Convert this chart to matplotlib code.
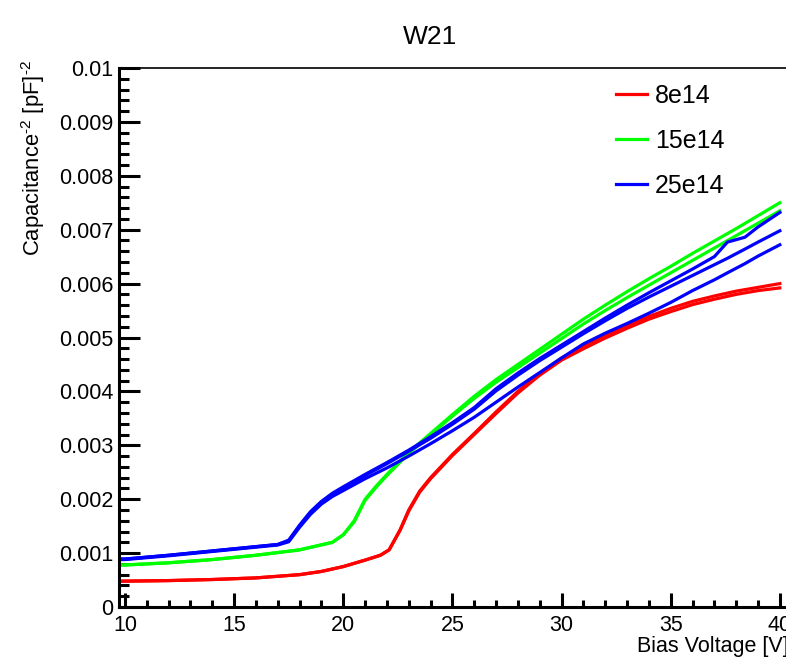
import matplotlib
matplotlib.use("Agg")
import matplotlib.pyplot as plt
from matplotlib.ticker import MultipleLocator, FixedLocator, FixedFormatter

plt.rcParams['font.family'] = ['Liberation Sans', 'DejaVu Sans']
plt.rcParams['mathtext.fontset'] = 'custom'
plt.rcParams['mathtext.rm'] = 'Liberation Sans'
plt.rcParams['mathtext.it'] = 'Liberation Sans:italic'
plt.rcParams['mathtext.bf'] = 'Liberation Sans:bold'

# ---- data ----
v_red = [9.75, 10, 12, 14, 16, 18, 19, 20, 21, 21.7, 22.1, 22.6, 23, 23.5, 24, 25, 26, 27, 28, 29,
         30, 31, 32, 33, 34, 35, 36, 37, 38, 39, 40]
c_red1 = [0.00048, 0.00048, 0.00049, 0.00051, 0.00054, 0.00060, 0.00066, 0.00075, 0.00087, 0.00096,
          0.00106, 0.00143, 0.00180, 0.00215, 0.00240, 0.00283, 0.00322, 0.00362, 0.00400, 0.00433,
          0.00462, 0.00483, 0.00503, 0.00522, 0.00539, 0.00554, 0.00567, 0.00577, 0.00586, 0.00593, 0.00600]
c_red2 = [0.00048, 0.00048, 0.00049, 0.00051, 0.00054, 0.00060, 0.00066, 0.00075, 0.00087, 0.00096,
          0.00106, 0.00142, 0.00178, 0.00213, 0.00238, 0.00281, 0.00320, 0.00359, 0.00397, 0.00430,
          0.00458, 0.00479, 0.00499, 0.00517, 0.00534, 0.00548, 0.00561, 0.00571, 0.00580, 0.00587, 0.00592]

v_green = [9.75, 10, 12, 14, 16, 18, 19.5, 20, 20.5, 21, 21.5, 22, 23, 24, 25, 26, 27, 28, 29,
           30, 31, 32, 33, 34, 35, 36, 37, 38, 39, 40]
c_green1 = [0.00078, 0.00078, 0.00082, 0.00088, 0.00096, 0.00106, 0.00120, 0.00134, 0.00160, 0.00200,
            0.00224, 0.00246, 0.00287, 0.00322, 0.00357, 0.00391, 0.00422, 0.00450, 0.00478,
            0.00506, 0.00534, 0.00560, 0.00585, 0.00609, 0.00632, 0.00656, 0.00679, 0.00702, 0.00726, 0.00750]
c_green2 = [0.00078, 0.00078, 0.00082, 0.00088, 0.00096, 0.00106, 0.00120, 0.00134, 0.00158, 0.00198,
            0.00222, 0.00244, 0.00285, 0.00320, 0.00354, 0.00387, 0.00417, 0.00444, 0.00471,
            0.00498, 0.00525, 0.00550, 0.00574, 0.00597, 0.00620, 0.00643, 0.00666, 0.00689, 0.00712, 0.00735]

v_blue = [9.75, 10, 12, 14, 16, 17, 17.5, 18, 18.5, 19, 19.5, 20, 21, 22, 23, 24, 25, 26, 27, 28, 29,
          30, 31, 32, 33, 34, 35, 36, 37, 37.6, 38.4, 39, 40]
c_blue1 = [0.00089, 0.00089, 0.00096, 0.00104, 0.00112, 0.00116, 0.00124, 0.00152, 0.00177, 0.00196,
           0.00211, 0.00223, 0.00246, 0.00268, 0.00291, 0.00316, 0.00342, 0.00370, 0.00405, 0.00434,
           0.00461, 0.00486, 0.00511, 0.00536, 0.00560, 0.00583, 0.00605, 0.00627, 0.00650, 0.00677,
           0.00686, 0.00705, 0.00732]
c_blue2 = [0.00089, 0.00089, 0.00096, 0.00104, 0.00112, 0.00116, 0.00123, 0.00150, 0.00175, 0.00194,
           0.00209, 0.00221, 0.00244, 0.00266, 0.00289, 0.00313, 0.00339, 0.00367, 0.00401, 0.00430,
           0.00457, 0.00482, 0.00507, 0.00531, 0.00554, 0.00575, 0.00595, 0.00615, 0.00635, 0.00647,
           0.00664, 0.00677, 0.00698]
c_blue3 = [0.00088, 0.00088, 0.00095, 0.00103, 0.00111, 0.00115, 0.00121, 0.00148, 0.00172, 0.00191,
           0.00205, 0.00216, 0.00238, 0.00258, 0.00280, 0.00303, 0.00327, 0.00352, 0.00380, 0.00408,
           0.00435, 0.00462, 0.00488, 0.00508, 0.00526, 0.00545, 0.00565, 0.00587, 0.00607, 0.00620,
           0.00637, 0.00651, 0.00672]

labels = ["8e14", "15e14", "25e14"]
y_ticks = [0, 0.001, 0.002, 0.003, 0.004, 0.005, 0.006, 0.007, 0.008, 0.009, 0.01]
y_ticklabels = ["0", "0.001", "0.002", "0.003", "0.004", "0.005", "0.006", "0.007", "0.008", "0.009", "0.01"]
x_ticks = [10, 15, 20, 25, 30, 35, 40]

RED, GREEN, BLUE = "#ff0000", "#00ff00", "#0000ff"

W, H = 786, 658
fig = plt.figure(figsize=(W / 100, H / 100), dpi=100)
left, right, top, bottom = 119, 789, 68, 607
ax = fig.add_axes([left / W, (H - bottom) / H, (right - left) / W, (bottom - top) / H])
ax.set_xlim(9.725, 40.42)
ax.set_ylim(0, 0.01)

lw = 2.3
ax.plot(v_red, c_red1, color=RED, lw=lw, label=labels[0], solid_joinstyle='round')
ax.plot(v_red, c_red2, color=RED, lw=lw, solid_joinstyle='round')
ax.plot(v_green, c_green1, color=GREEN, lw=lw, label=labels[1], solid_joinstyle='round')
ax.plot(v_green, c_green2, color=GREEN, lw=lw, solid_joinstyle='round')
ax.plot(v_blue, c_blue1, color=BLUE, lw=lw, label=labels[2], solid_joinstyle='round')
ax.plot(v_blue, c_blue2, color=BLUE, lw=lw, solid_joinstyle='round')
ax.plot(v_blue, c_blue3, color=BLUE, lw=lw, solid_joinstyle='round')

ax.yaxis.set_major_locator(FixedLocator(y_ticks))
ax.yaxis.set_major_formatter(FixedFormatter(y_ticklabels))
ax.yaxis.set_minor_locator(MultipleLocator(0.0002))
ax.xaxis.set_major_locator(FixedLocator(x_ticks))
ax.xaxis.set_minor_locator(MultipleLocator(1))

ax.tick_params(axis='y', which='major', direction='in', length=15, width=2.2, labelsize=15.5, pad=4)
ax.tick_params(axis='y', which='minor', direction='in', length=7, width=2.2)
ax.tick_params(axis='x', which='major', direction='in', length=10, width=2.2, labelsize=15.5, pad=6)
ax.tick_params(axis='x', which='minor', direction='in', length=5, width=2.2)

ax.spines['left'].set_linewidth(2.2)
ax.spines['bottom'].set_linewidth(2.2)
ax.spines['top'].set_linewidth(1.2)
ax.spines['right'].set_linewidth(1.2)

ax.set_xlabel("Bias Voltage [V]", fontsize=15.5, loc='right', labelpad=0)
fig.text(33 / W, 1 - 60 / H, r"Capacitance$^{\text{-}2}$ [pF]$^{\text{-}2}$", rotation=90, ha='center',
         va='top', fontsize=15.8)
fig.text(430 / W, 1 - 37 / H, "W21", ha='center', va='center', fontsize=19)

leg = ax.legend(loc='upper left', bbox_to_anchor=((616 - left) / (right - left), (bottom - 84) / (bottom - top)),
                frameon=False, fontsize=18, handlelength=1.25, handletextpad=0.3,
                labelspacing=0.84, borderaxespad=0, borderpad=0)

fig.savefig("out.png", dpi=100)
